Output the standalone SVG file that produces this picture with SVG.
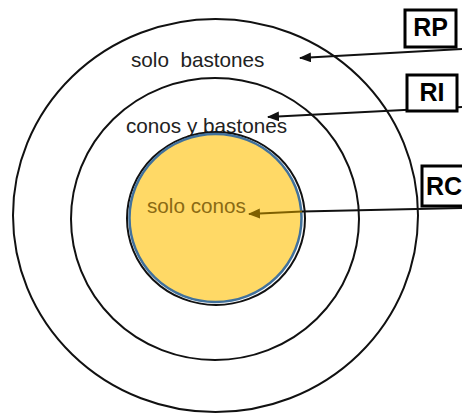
<svg xmlns="http://www.w3.org/2000/svg" width="462" height="414" viewBox="0 0 462 414">
<defs>
<style>
.ring{fill:none;stroke:#111;stroke-width:2}
.zone{font-family:"Liberation Sans",Arial,sans-serif;font-size:20.7px;fill:#222;white-space:pre}
.box{fill:#fff;stroke:#000;stroke-width:3}
.tag{font-family:"Liberation Sans",Arial,sans-serif;font-size:25px;font-weight:bold;fill:#000}
.arrow{fill:none;stroke:#111;stroke-width:2}
</style>
<marker id="ah" viewBox="0 0 12 10" refX="11" refY="5" markerWidth="12" markerHeight="10" markerUnits="userSpaceOnUse" orient="auto">
<path d="M0,0 L12,5 L0,10 Z" fill="#111"/>
</marker>
<marker id="ahb" viewBox="0 0 12 10" refX="11" refY="5" markerWidth="12" markerHeight="10" markerUnits="userSpaceOnUse" orient="auto">
<path d="M0,0 L12,5 L0,10 Z" fill="#7f6000"/>
</marker>
</defs>
<rect width="462" height="414" fill="#fff"/>
<g id="outer-ring">
<ellipse class="ring" cx="215.5" cy="215.5" rx="202.5" ry="196.5"/>
<text class="zone" x="131" y="67" xml:space="preserve">solo  bastones</text>
</g>
<g id="middle-ring">
<ellipse class="ring" cx="215" cy="219" rx="144" ry="141"/>
<text class="zone" x="126" y="133">conos y bastones</text>
</g>
<g id="inner-ring">
<ellipse cx="216" cy="218.5" rx="89" ry="86.5" fill="none" stroke="#111" stroke-width="2"/>
<ellipse cx="215.5" cy="218" rx="86" ry="84" fill="#FFD966" stroke="#41719C" stroke-width="2.5"/>
<text class="zone" x="147" y="213" style="fill:#8a6a14">solo conos</text>
</g>
<g id="connectors">
<path class="arrow" d="M462,49 L300,58" marker-end="url(#ah)"/>
<path class="arrow" d="M462,107 L268,117" marker-end="url(#ah)"/>
<path class="arrow" d="M462,208 L302,211.5"/>
<path d="M302,211.5 L249,214" fill="none" stroke="#7f6000" stroke-width="2" marker-end="url(#ahb)"/>
</g>
<g id="label-RP">
<rect class="box" x="405" y="10" width="51" height="37"/>
<text class="tag" x="430.5" y="36" text-anchor="middle">RP</text>
</g>
<g id="label-RI">
<rect class="box" x="407" y="75" width="50" height="36"/>
<text class="tag" x="432" y="101" text-anchor="middle">RI</text>
</g>
<g id="label-RC">
<rect class="box" x="422" y="166" width="50" height="40"/>
<text class="tag" x="426" y="195">RC</text>
</g>
</svg>
